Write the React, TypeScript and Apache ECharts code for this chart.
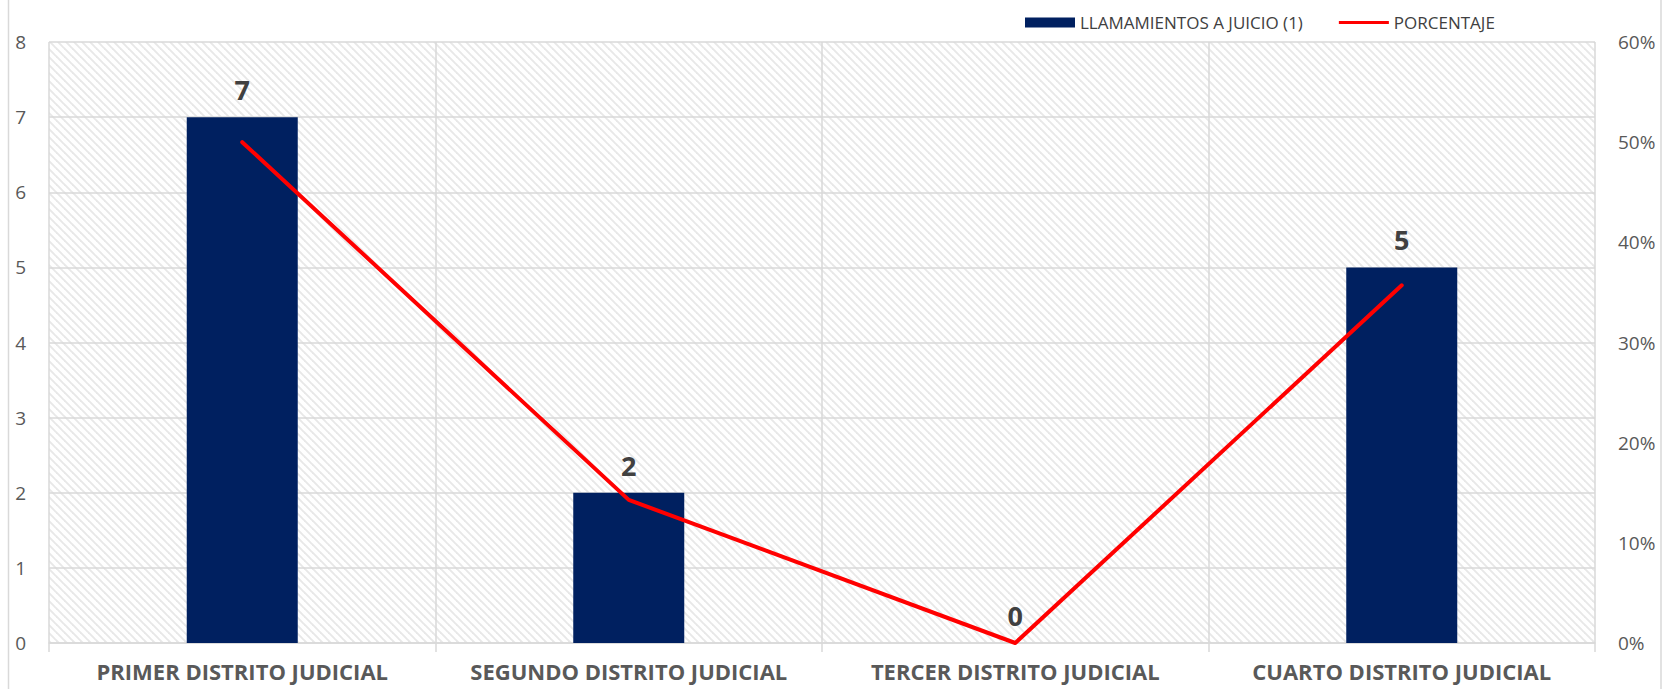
import React, { useEffect, useRef } from "react";
import * as echarts from "echarts";

const categories = [
  "PRIMER DISTRITO JUDICIAL",
  "SEGUNDO DISTRITO JUDICIAL",
  "TERCER DISTRITO JUDICIAL",
  "CUARTO DISTRITO JUDICIAL",
];
const llamamientos = [7, 2, 0, 5];
const porcentaje = [0.5, 0.1429, 0, 0.3571];
const leftTicks = { min: 0, max: 8, interval: 1 };
const rightTicks = { min: 0, max: 0.6, interval: 0.1 };

function makeHatch() {
  const s = 8;
  const c = document.createElement("canvas");
  c.width = s;
  c.height = s;
  const ctx = c.getContext("2d")!;
  ctx.fillStyle = "#ffffff";
  ctx.fillRect(0, 0, s, s);
  ctx.strokeStyle = "#e8e8e8";
  ctx.lineWidth = 1.9;
  for (const o of [-s, 0, s]) {
    ctx.beginPath();
    ctx.moveTo(o - 1, -1);
    ctx.lineTo(o + s + 1, s + 1);
    ctx.stroke();
  }
  return c;
}

const lineIcon =
  "path://M0,0 L0.01,0 L0,0.01 Z M0,3.6 L50,3.6 L50,6.4 L0,6.4 Z M0,10 L0.01,10 L0,9.99 Z";

export default function App() {
  const ref = useRef<HTMLDivElement>(null);
  useEffect(() => {
    if (!ref.current) return;
    const chart = echarts.init(ref.current, undefined, { renderer: "svg" });
    const hatch = makeHatch();
    const font = "'Open Sans', sans-serif";
    chart.setOption({
      animation: false,
      backgroundColor: "#ffffff",
      textStyle: { fontFamily: font },
      grid: {
        left: 49,
        right: 67,
        top: 42,
        bottom: 46,
        show: true,
        borderWidth: 0,
        backgroundColor: {
          image: hatch,
          repeat: "repeat",
          imageWidth: 8,
          imageHeight: 8,
        } as any,
      },
      legend: {
        left: 1020,
        top: 9,
        itemWidth: 50,
        itemHeight: 10,
        itemGap: 36,
        textStyle: { fontSize: 17, color: "#404040", fontFamily: font },
        data: [
          { name: "LLAMAMIENTOS A JUICIO (1)", icon: "rect" },
          { name: "PORCENTAJE", icon: lineIcon, itemStyle: { color: "#ff0000" } },
        ],
      },
      graphic: [
        { type: "line", shape: { x1: 8.5, y1: 0, x2: 8.5, y2: 689 }, style: { stroke: "#d9d9d9", lineWidth: 1.5 } },
        { type: "line", shape: { x1: 1661, y1: 0, x2: 1661, y2: 689 }, style: { stroke: "#d9d9d9", lineWidth: 1.5 } },
      ],
      xAxis: {
        type: "category",
        data: categories,
        boundaryGap: true,
        axisLine: { lineStyle: { color: "#d9d9d9", width: 1.5 } },
        axisTick: { show: true, interval: 0, length: 9, lineStyle: { color: "#d9d9d9", width: 1.5 } },
        splitLine: { show: true, interval: 0, lineStyle: { color: "#d9d9d9", width: 1.5 } },
        axisLabel: {
          interval: 0,
          margin: 17,
          fontSize: 22,
          lineHeight: 22,
          fontWeight: "bold",
          color: "#595959",
          fontFamily: font,
        },
      },
      yAxis: [
        {
          type: "value",
          min: leftTicks.min,
          max: leftTicks.max,
          interval: leftTicks.interval,
          axisLine: { show: false },
          axisTick: { show: false },
          splitLine: { show: true, lineStyle: { color: "#d9d9d9", width: 1.5 } },
          axisLabel: { margin: 23, fontSize: 19, color: "#595959", fontFamily: font },
        },
        {
          type: "value",
          min: rightTicks.min,
          max: rightTicks.max,
          interval: rightTicks.interval,
          axisLine: { show: false },
          axisTick: { show: false },
          splitLine: { show: false },
          axisLabel: {
            margin: 23,
            fontSize: 19,
            color: "#595959",
            fontFamily: font,
            formatter: (v: number) => Math.round(v * 100) + "%",
          },
        },
      ],
      series: [
        {
          name: "LLAMAMIENTOS A JUICIO (1)",
          type: "bar",
          data: llamamientos,
          barWidth: 111,
          itemStyle: { color: "#002060" },
          label: {
            show: true,
            position: "top",
            distance: 14,
            fontSize: 27,
            fontWeight: "bold",
            color: "#404040",
            fontFamily: font,
          },
        },
        {
          name: "PORCENTAJE",
          type: "line",
          yAxisIndex: 1,
          data: porcentaje,
          symbol: "none",
          lineStyle: { color: "#ff0000", width: 4, cap: "round", join: "round" },
          itemStyle: { color: "#ff0000" },
        },
      ],
    });
    return () => chart.dispose();
  }, []);
  return (
    <div
      ref={ref}
      style={{ position: "fixed", left: 0, top: 0, width: 1662, height: 689 }}
    />
  );
}
